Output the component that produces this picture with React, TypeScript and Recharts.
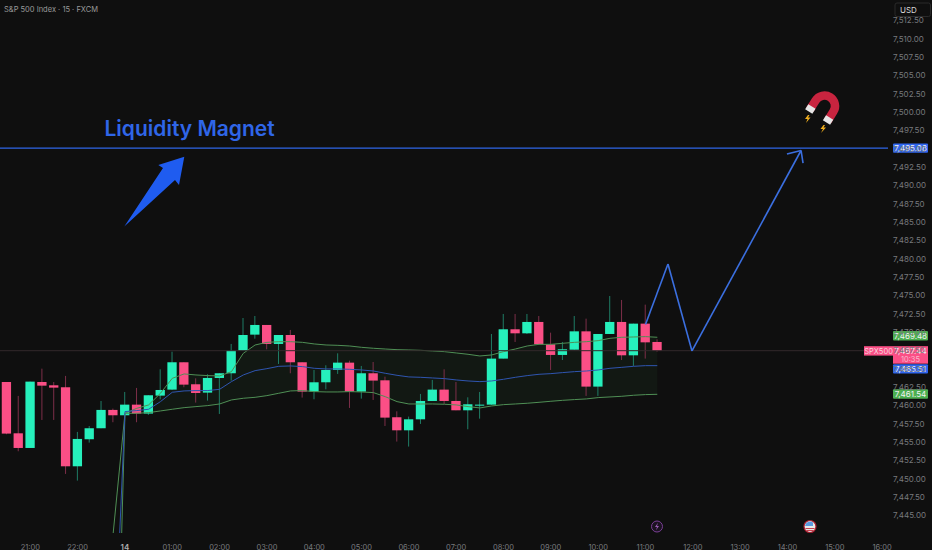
import React from 'react';
import { ComposedChart, XAxis, YAxis, Bar, Line, Area, ReferenceLine } from 'recharts';

const opens = [7463.17,7456.17,7454.17,7463.17,7462.72,7462.45,7451.67,7455.36,7456.86,7459.36,7458.63,7460.08,7458.86,7461.31,7462.13,7465.86,7462.86,7461.72,7463.72,7464.36,7467.45,7469.63,7470.95,7468.36,7469.58,7465.86,7461.86,7463.13,7464.81,7465.81,7461.86,7464.36,7463.40,7458.36,7456.58,7458.08,7460.58,7462.13,7460.58,7459.31,7460.0,7460.08,7466.36,7470.36,7469.81,7471.36,7468.31,7466.86,7467.58,7470.08,7462.54,7469.72,7471.36,7466.81,7471.13,7468.63];
const highs = [7463.17,7461.27,7463.22,7464.99,7463.17,7464.0,7456.36,7457.17,7460.58,7459.54,7461.81,7462.36,7461.36,7464.90,7467.31,7465.86,7463.67,7464.22,7464.36,7468.36,7471.90,7472.17,7470.95,7469.58,7470.27,7465.86,7464.81,7465.45,7467.08,7466.08,7465.36,7465.90,7463.90,7459.17,7458.45,7461.54,7463.45,7464.90,7463.17,7461.08,7461.81,7469.72,7472.45,7472.45,7472.45,7472.17,7469.90,7468.63,7472.17,7471.81,7469.72,7474.90,7474.36,7471.13,7473.72,7468.99];
const lows = [7456.04,7453.72,7454.17,7457.99,7457.99,7450.63,7449.72,7454.90,7456.86,7457.68,7458.63,7457.68,7458.68,7460.81,7462.08,7462.45,7460.36,7460.63,7458.81,7463.36,7467.45,7469.08,7467.63,7465.63,7464.36,7461.04,7460.81,7462.17,7464.27,7459.63,7460.90,7460.72,7457.17,7455.04,7454.36,7457.45,7460.58,7460.17,7459.31,7456.72,7458.17,7460.04,7466.36,7468.63,7469.72,7468.31,7464.81,7466.17,7467.58,7461.27,7461.27,7469.72,7466.17,7465.36,7466.36,7467.31];
const closes = [7456.13,7454.17,7463.22,7462.67,7462.40,7451.67,7455.40,7456.86,7459.36,7458.63,7460.08,7458.86,7461.36,7462.08,7465.86,7462.81,7461.67,7463.72,7464.36,7467.45,7469.58,7470.95,7468.36,7469.58,7465.86,7461.86,7463.13,7464.81,7465.81,7461.86,7464.36,7463.36,7458.31,7456.58,7458.08,7460.58,7462.13,7460.58,7459.31,7460.13,7460.08,7466.36,7470.36,7469.81,7471.36,7468.31,7466.86,7467.63,7470.08,7462.54,7469.72,7471.36,7466.81,7471.13,7468.58,7467.44];

// band values begin at bar 9 (the steep run-up from below the pane)
const bandStart = 9;
const upperBand = [7442.5,7458.90,7459.58,7460.04,7461.63,7463.67,7464.27,7464.13,7464.04,7464.0,7464.58,7467.08,7468.22,7468.58,7468.67,7468.67,7468.58,7468.36,7468.22,7468.17,7468.08,7467.90,7467.77,7467.67,7467.58,7467.54,7467.49,7467.40,7467.31,7467.13,7466.95,7466.72,7466.86,7467.31,7467.67,7468.08,7468.31,7468.31,7468.45,7468.58,7468.67,7468.81,7469.13,7469.27,7469.31,7469.36,7469.27];
const midBand = [7421.8,7459.13,7459.27,7459.45,7460.49,7461.77,7461.95,7462.0,7462.0,7462.17,7463.22,7464.13,7464.72,7464.99,7465.31,7465.36,7465.27,7465.04,7464.95,7464.95,7464.90,7464.81,7464.67,7464.36,7464.08,7463.86,7463.81,7463.72,7463.63,7463.45,7463.31,7463.22,7463.31,7463.54,7463.81,7464.04,7464.22,7464.31,7464.45,7464.58,7464.67,7464.81,7465.04,7465.17,7465.31,7465.40,7465.40];
const lowerBand = [7400,7458.90,7458.90,7458.99,7459.22,7459.45,7459.67,7459.81,7459.95,7460.17,7460.72,7460.95,7461.08,7461.31,7461.63,7461.95,7462.0,7461.86,7461.81,7461.81,7461.86,7461.81,7461.72,7461.17,7460.49,7460.17,7460.17,7460.17,7460.13,7460.04,7459.81,7459.63,7459.90,7460.08,7460.17,7460.27,7460.40,7460.54,7460.67,7460.77,7460.86,7461.04,7461.13,7461.22,7461.36,7461.45,7461.49];

const timeTicks = [2,6,10,14,18,22,26,30,34,38,42,46,50,54,58,62,66,70,74];
const timeLabels = ['21:00','22:00','14','01:00','02:00','03:00','04:00','05:00','06:00','07:00','08:00','09:00','10:00','11:00','12:00','13:00','14:00','15:00','16:00'];
const priceTicks = [7445,7447.5,7450,7452.5,7455,7457.5,7460,7462.5,7465,7467.5,7470,7472.5,7475,7477.5,7480,7482.5,7485,7487.5,7490,7492.5,7495,7497.5,7500,7502.5,7505,7507.5,7510,7512.5];

// forecast path: [bar, price]
const forecast = [[54,7471.0],[55.9,7479.26],[57.93,7467.4],[67.15,7494.75]];
const arrowWings = [[65.96,7494.27],[67.32,7493.04]];
const magnetLevel = 7495.08;
const lastPrice = 7467.44;

const rows = opens.map((o, i) => {
  const j = i - bandStart;
  return {
    i, o, h: highs[i], l: lows[i], c: closes[i],
    upper: j >= 0 ? upperBand[j] : null,
    mid: j >= 0 ? midBand[j] : null,
    lower: j >= 0 ? lowerBand[j] : null,
    band: j >= 1 ? [lowerBand[j], upperBand[j]] : null,
  };
});

const UP = '#26f0bc';
const DOWN = '#fb4f86';
const FONT = 'Inter, sans-serif';

function Candle(props: any) {
  const { x, y, width, height, payload } = props;
  const up = payload.c >= payload.o;
  const k = height / (payload.h - payload.l || 1);
  const top = y + (payload.h - Math.max(payload.o, payload.c)) * k;
  const bh = Math.max(1, Math.abs(payload.o - payload.c) * k);
  const cx = x + width / 2;
  return (
    <g>
      <line x1={cx} x2={cx} y1={y} y2={y + height} stroke={up ? '#1f7d66' : '#7d2f49'} strokeWidth={1} />
      <rect x={x} y={top} width={width} height={bh} fill={up ? UP : DOWN} />
    </g>
  );
}

function TimeTick(props: any) {
  const { x, y, payload } = props;
  const idx = timeTicks.indexOf(payload.value);
  const bold = timeLabels[idx] === '14';
  return (
    <text x={x} y={y} dy={9} textAnchor="middle" fontFamily={FONT} fontSize={bold ? 8 : 7.5}
      fontWeight={bold ? 600 : 400} fill={bold ? '#b0b0b0' : '#77797d'}>
      {timeLabels[idx]}
    </text>
  );
}

function PriceTick(props: any) {
  const { y, payload } = props;
  return (
    <text x={893} y={y} dy={3} textAnchor="start" fontFamily={FONT} fontSize={8} fill="#77797d">
      {payload.value.toLocaleString('en-US', { minimumFractionDigits: 2, maximumFractionDigits: 2 })}
    </text>
  );
}

function Tag(props: any) {
  const { viewBox, text, color, shift = 0 } = props;
  const x = viewBox.x + viewBox.width + 5;
  const cy = viewBox.y + shift;
  return (
    <g>
      <rect x={x} y={cy - 4.7} width={35} height={9.4} rx={1} fill={color} />
      <text x={x + 17.5} y={cy + 3} textAnchor="middle" fontFamily={FONT} fontSize={8} fill="#f2f2f2">{text}</text>
    </g>
  );
}

function LastTag(props: any) {
  const { viewBox } = props;
  const x = viewBox.x + viewBox.width + 5;
  const cy = viewBox.y;
  return (
    <g>
      <rect x={x - 29} y={cy - 4.5} width={29} height={9.4} fill={DOWN} />
      <text x={x - 14.5} y={cy + 3} textAnchor="middle" fontFamily={FONT} fontSize={7.5} fill="#f5d5de">SPX500</text>
      <rect x={x} y={cy - 4.5} width={35} height={17.5} fill={DOWN} />
      <text x={x + 17.5} y={cy + 3} textAnchor="middle" fontFamily={FONT} fontSize={8} fill="#f7e6eb">7,467.44</text>
      <text x={x + 17.5} y={cy + 11} textAnchor="middle" fontFamily={FONT} fontSize={7.5} fill="#f7b9cb">10:35</text>
    </g>
  );
}

const BLUE = '#2f66e8';

function Decor() {
  return (
    <svg width={932} height={550} style={{ position: 'absolute', left: 0, top: 0, pointerEvents: 'none' }}>
      <text x={4} y={12} fontFamily={FONT} fontSize={7.5} fill="#9a9a9a">S&amp;P 500 Index · 15 · FXCM</text>
      <text x={104.5} y={136} fontFamily={FONT} fontSize={21} fontWeight={600} fill={BLUE}>Liquidity Magnet</text>
      <polygon points="124.3,226.5 163,168 158.3,165 184.3,156.7 179,185 175,180" fill="#1f5cf0" />
      <rect x={895} y={3} width={35.5} height={13.5} rx={2} fill="#0f0f0f" stroke="#2a2a2a" />
      <text x={900} y={12.5} fontFamily={FONT} fontSize={8} fill="#d8d8d8">USD</text>
      <g transform="translate(824.5 106) rotate(32)">
        <path d="M -10.5 11 L -10.5 0 A 10.5 10.5 0 0 1 10.5 0 L 10.5 11" fill="none" stroke="#c8243f" strokeWidth={8.5} />
        <rect x={-14.7} y={7} width={8.5} height={6} fill="#e6e6e6" />
        <rect x={6.2} y={7} width={8.5} height={6} fill="#e6e6e6" />
      </g>
      <polygon points="808,115 805,119 807.5,119 806,123 810.5,117.5 808,117.5 809.5,115" fill="#f2b01e" />
      <polygon points="823.5,125 820.5,129 823,129 821,133 826,127.5 823.5,127.5 825,125" fill="#f2b01e" />
      <circle cx={657} cy={526.5} r={5.5} fill="#1b1220" stroke="#7a3f95" strokeWidth={1} />
      <polygon points="658,522.8 655,527 657,527 656,530.2 659,526 657,526" fill="#9a5cb5" />
      <circle cx={810} cy={526.5} r={6} fill="#e8e8e8" stroke="#a81d2e" strokeWidth={1.2} />
      <path d="M 805 526 A 5 5 0 0 1 813 522.5 L 813 526 Z" fill="#5b9be0" />
      <path d="M 805.4 528.5 L 814.6 528.5 M 806.5 530.5 L 813.5 530.5" stroke="#c8404f" strokeWidth={1} />
    </svg>
  );
}

export default function App() {
  return (
    <div style={{ position: 'fixed', left: 0, top: 0, width: 932, height: 550, background: '#0f0f0f', overflow: 'hidden' }}>
      <ComposedChart width={932} height={550} data={rows} margin={{ top: 0, right: 0, bottom: 0, left: 0 }}>
        <XAxis dataKey="i" type="number" domain={[-0.564, 74.5]} ticks={timeTicks} interval={0} allowDataOverflow
          axisLine={false} tickLine={false} tick={<TimeTick />} height={17} />
        <YAxis orientation="right" type="number" domain={[7442.57, 7515.28]} ticks={priceTicks} interval={0} allowDataOverflow
          axisLine={false} tickLine={false} tick={<PriceTick />} width={44} />
        <Area dataKey="band" stroke="none" fill="#4caf50" fillOpacity={0.06} isAnimationActive={false} connectNulls={false} />
        <Line dataKey="upper" stroke="#4f8f55" strokeWidth={1} dot={false} isAnimationActive={false} />
        <Line dataKey="lower" stroke="#4f8f55" strokeWidth={1} dot={false} isAnimationActive={false} />
        <Line dataKey="mid" stroke="#2f55b0" strokeWidth={1} dot={false} isAnimationActive={false} />
        <ReferenceLine y={lastPrice} stroke="#33292c" strokeWidth={1} />
        <Bar dataKey={(d: any) => [d.l, d.h]} barSize={9.3} shape={<Candle />} isAnimationActive={false} />
        <ReferenceLine y={magnetLevel} stroke={BLUE} strokeWidth={1.2} label={<Tag text="7,495.08" color="#2f66f0" />} />
        {forecast.slice(0, -1).map((p, n) => (
          <ReferenceLine key={n} segment={[{ x: p[0], y: p[1] }, { x: forecast[n + 1][0], y: forecast[n + 1][1] }]} stroke="#3b6fe0" strokeWidth={1.6} ifOverflow="visible" />
        ))}
        {arrowWings.map((p, n) => (
          <ReferenceLine key={'w' + n} segment={[{ x: p[0], y: p[1] }, { x: forecast[3][0], y: forecast[3][1] }]} stroke="#3b6fe0" strokeWidth={1.6} ifOverflow="visible" />
        ))}
        <ReferenceLine y={7469.48} stroke="none" label={<Tag text="7,469.48" color="#4caf50" />} />
        <ReferenceLine y={7461.54} stroke="none" label={<Tag text="7,461.54" color="#4caf50" />} />
        <ReferenceLine y={7465.51} stroke="none" label={<Tag text="7,465.51" color="#2f66f0" shift={4} />} />
        <ReferenceLine y={lastPrice} stroke="none" label={<LastTag />} />
      </ComposedChart>
      <Decor />
    </div>
  );
}
